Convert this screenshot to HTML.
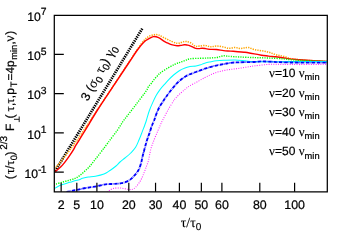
<!DOCTYPE html>
<html><head><meta charset="utf-8"><title>plot</title>
<style>
html,body{margin:0;padding:0;background:#fff;}
body{width:350px;height:245px;overflow:hidden;}
svg{display:block;will-change:transform;}
#txt{filter:grayscale(1);}
text{font-family:"Liberation Sans",sans-serif;fill:#000;stroke:#000;stroke-width:0.22px;text-rendering:geometricPrecision;}
.s{font-family:"Liberation Serif",serif;stroke-width:0.12px;}
</style></head><body>
<svg width="350" height="245" viewBox="0 0 350 245">
<rect x="0" y="0" width="350" height="245" fill="#fff"/>
<defs><clipPath id="c"><rect x="54.3" y="15.4" width="273" height="176.4"/></clipPath></defs>
<g clip-path="url(#c)" fill="none" stroke-linejoin="round">
<path d="M55.1,171.0 L142.6,28.0" stroke="#000" stroke-width="2.7" stroke-dasharray="1.35 0.95"/>
<path d="M54.5,168.6 C54.9,168.2 56.1,167.0 57.0,166.0 C57.9,165.0 58.8,164.0 60.0,162.6 C61.2,161.2 62.7,159.3 64.0,157.6 C65.3,155.9 66.7,154.1 68.0,152.4 C69.3,150.7 70.8,149.0 72.0,147.4 C73.2,145.8 74.0,144.4 75.0,143.0 C76.0,141.6 76.5,141.0 78.0,138.8 C79.5,136.6 82.0,132.8 84.0,129.8 C86.0,126.8 87.8,124.3 90.0,121.0 C92.2,117.7 94.1,114.7 97.2,110.0 C100.3,105.3 104.9,98.4 108.8,92.6 C112.7,86.8 117.0,80.3 120.5,75.0 C124.0,69.7 127.2,64.8 130.0,60.6 C132.8,56.4 134.9,53.0 137.2,49.6 C139.5,46.2 142.0,42.7 144.0,40.5 C146.0,38.3 147.3,37.3 149.0,36.3 C150.7,35.3 152.7,34.9 154.3,34.7 C155.9,34.5 156.9,34.5 158.6,35.0 C160.3,35.5 162.2,36.9 164.3,37.9 C166.4,38.9 169.3,40.4 171.4,41.3 C173.5,42.2 175.5,43.1 177.1,43.3 C178.7,43.5 179.8,42.9 181.0,42.6 C182.2,42.3 183.3,41.7 184.3,41.5 C185.3,41.3 186.1,41.4 187.0,41.6 C187.9,41.8 189.0,42.0 190.0,42.5 C191.0,43.0 192.1,43.8 193.0,44.4 C193.9,45.0 194.6,46.0 195.7,46.3 C196.8,46.6 197.8,46.2 199.3,46.1 C200.9,46.0 203.1,45.3 205.0,45.4 C206.9,45.5 208.8,46.7 210.7,46.8 C212.6,46.9 214.2,46.0 216.4,46.0 C218.6,46.0 221.4,46.7 223.6,47.1 C225.8,47.5 227.4,48.2 229.3,48.3 C231.2,48.4 233.2,47.5 235.0,47.5 C236.8,47.5 238.4,48.3 240.0,48.4 C241.6,48.5 242.9,48.0 244.3,47.9 C245.7,47.8 246.9,47.3 248.6,47.6 C250.3,47.9 252.2,49.1 254.3,49.6 C256.4,50.1 259.0,50.3 261.4,50.7 C263.8,51.1 266.2,51.5 268.6,52.1 C271.0,52.8 273.3,53.9 275.7,54.6 C278.1,55.3 280.5,55.5 282.9,56.1 C285.3,56.7 287.8,57.9 290.0,58.4 C292.2,58.9 293.5,59.1 296.0,59.4 C298.5,59.7 299.8,59.9 305.0,60.2 C310.2,60.6 323.3,61.3 327.0,61.5" stroke="#ffa500" stroke-width="1.5" stroke-dasharray="1.3 1.1"/>
<path d="M54.5,172.0 C54.8,171.8 55.3,171.5 56.3,170.7 C57.3,169.9 59.2,168.5 60.6,167.1 C62.0,165.7 63.5,163.9 64.9,162.1 C66.3,160.3 67.7,158.4 69.1,156.4 C70.5,154.4 72.1,152.1 73.2,150.2 C74.3,148.3 74.9,146.9 75.9,145.2 C76.9,143.5 77.3,143.1 79.3,139.8 C81.3,136.5 85.0,130.6 88.0,125.6 C91.0,120.6 94.0,115.5 97.5,110.0 C101.0,104.5 105.1,98.4 109.0,92.6 C112.9,86.8 117.2,80.3 120.7,75.0 C124.2,69.7 127.2,65.2 130.0,61.0 C132.8,56.8 135.1,53.2 137.4,50.0 C139.7,46.8 142.1,43.9 144.0,42.0 C145.9,40.1 147.4,39.5 149.0,38.6 C150.6,37.7 151.8,36.8 153.4,36.6 C155.0,36.5 156.8,36.9 158.6,37.7 C160.4,38.5 162.7,40.4 164.3,41.3 C165.9,42.2 166.8,42.7 168.0,43.2 C169.2,43.8 169.9,44.2 171.4,44.6 C172.9,45.0 175.5,45.6 177.1,45.7 C178.7,45.8 179.8,45.5 181.0,45.4 C182.2,45.2 183.3,44.9 184.3,44.8 C185.3,44.7 186.1,44.8 187.0,45.0 C187.9,45.2 189.0,45.4 190.0,45.8 C191.0,46.2 192.1,46.8 193.0,47.2 C193.9,47.6 194.7,48.2 195.7,48.4 C196.7,48.6 197.9,48.6 199.0,48.6 C200.1,48.6 201.0,48.2 202.1,48.2 C203.2,48.2 204.3,48.4 205.5,48.6 C206.7,48.8 207.5,49.1 209.3,49.3 C211.1,49.4 214.0,49.3 216.4,49.5 C218.8,49.7 221.2,50.3 223.6,50.6 C226.0,50.9 228.3,50.9 230.7,51.1 C233.1,51.3 235.7,51.5 237.9,51.7 C240.1,51.9 242.5,52.1 244.0,52.2 C245.5,52.3 245.4,52.2 247.1,52.5 C248.8,52.8 251.9,53.4 254.3,53.9 C256.7,54.4 259.0,54.8 261.4,55.2 C263.8,55.6 266.2,55.8 268.6,56.1 C271.0,56.4 273.3,56.5 275.7,56.8 C278.1,57.1 280.5,57.4 282.9,57.7 C285.3,58.1 287.1,58.5 290.0,58.9 C292.9,59.2 296.7,59.5 300.0,59.8 C303.3,60.1 305.5,60.2 310.0,60.5 C314.5,60.8 324.2,61.2 327.0,61.4" stroke="#ff0000" stroke-width="1.45"/>
<path d="M56.0,184.0 C57.2,183.7 60.7,182.7 63.0,182.0 C65.3,181.3 67.8,180.7 70.0,180.0 C72.2,179.3 74.2,178.9 76.0,178.0 C77.8,177.1 79.3,175.8 81.0,174.5 C82.7,173.2 84.5,171.4 86.0,170.0 C87.5,168.6 88.7,167.5 90.0,166.0 C91.3,164.5 92.7,162.7 94.0,161.0 C95.3,159.3 96.5,157.8 98.0,155.9 C99.5,154.0 101.9,150.8 103.0,149.4 C104.1,148.0 103.9,148.4 104.6,147.4 C105.3,146.4 106.5,144.7 107.4,143.5 C108.3,142.3 108.4,142.2 110.0,140.0 C111.6,137.8 114.9,133.7 117.1,130.6 C119.3,127.5 121.2,124.0 123.0,121.4 C124.8,118.8 126.2,117.2 128.0,114.9 C129.8,112.6 131.9,109.9 133.6,107.7 C135.3,105.5 136.4,104.0 138.0,101.9 C139.6,99.8 141.8,96.8 143.0,95.3 C144.2,93.8 144.4,93.5 145.1,92.6 C145.8,91.6 146.4,90.6 147.0,89.6 C147.6,88.5 147.9,87.4 148.7,86.3 C149.5,85.2 150.6,84.2 151.6,83.0 C152.6,81.8 153.3,80.4 154.4,79.1 C155.5,77.8 157.1,76.2 158.1,75.1 C159.1,74.0 159.1,73.9 160.7,72.7 C162.3,71.5 165.5,69.4 167.9,68.0 C170.3,66.6 173.0,65.2 175.0,64.2 C177.0,63.2 178.3,62.9 180.0,62.3 C181.7,61.7 183.3,61.2 185.0,60.6 C186.7,60.0 187.5,59.2 190.0,58.8 C192.5,58.4 196.8,58.4 200.0,58.3 C203.2,58.2 206.6,58.1 209.3,58.0 C212.0,57.9 214.6,57.7 216.4,57.5 C218.2,57.3 218.8,56.9 220.0,56.6 C221.2,56.3 222.4,55.9 223.6,55.8 C224.8,55.7 225.8,56.0 227.0,56.1 C228.2,56.2 228.5,56.4 230.7,56.5 C232.9,56.6 236.1,56.8 240.0,57.0 C243.9,57.2 249.5,57.4 254.3,57.6 C259.1,57.8 263.8,57.8 268.6,58.0 C273.4,58.2 279.3,58.5 282.9,58.8 C286.5,59.1 287.1,59.4 290.0,59.6 C292.9,59.9 295.8,60.1 300.0,60.3 C304.2,60.5 310.5,60.8 315.0,61.0 C319.5,61.2 325.0,61.4 327.0,61.5" stroke="#00ff00" stroke-width="1.4" stroke-dasharray="1.2 1.2"/>
<path d="M54.5,188.3 C54.8,188.2 54.9,188.2 56.0,187.6 C57.1,187.0 59.3,185.7 61.1,185.0 C62.9,184.3 65.0,183.9 66.9,183.3 C68.8,182.7 70.7,182.0 72.6,181.4 C74.5,180.8 76.6,180.5 78.3,180.0 C80.0,179.5 80.9,178.8 82.6,178.3 C84.3,177.8 86.2,177.3 88.3,177.0 C90.4,176.7 92.8,176.7 95.4,176.2 C98.0,175.7 101.6,174.9 104.0,174.0 C106.4,173.1 108.0,171.8 110.0,170.5 C112.0,169.2 114.3,167.4 116.0,166.0 C117.7,164.6 118.5,163.3 120.0,162.0 C121.5,160.7 123.2,159.5 125.0,158.0 C126.8,156.5 128.9,154.8 130.7,153.0 C132.5,151.2 134.2,149.6 135.6,147.3 C137.0,145.1 138.1,142.0 139.2,139.5 C140.3,137.0 141.2,134.5 142.1,132.1 C143.0,129.7 144.1,127.0 144.8,125.0 C145.5,123.0 145.8,122.4 146.5,120.0 C147.2,117.6 148.2,113.7 149.3,110.7 C150.4,107.7 151.7,104.7 152.9,102.1 C154.1,99.5 155.2,97.1 156.4,95.0 C157.6,92.9 158.6,91.5 160.0,89.6 C161.4,87.7 163.5,85.5 165.0,83.8 C166.5,82.1 167.6,80.9 169.0,79.4 C170.4,77.9 171.9,76.5 173.6,75.0 C175.3,73.5 177.4,71.9 179.3,70.7 C181.2,69.5 183.2,68.7 185.0,68.0 C186.8,67.3 188.2,66.7 190.0,66.4 C191.8,66.1 194.2,66.3 196.0,66.0 C197.8,65.7 199.4,65.2 200.7,64.8 C202.0,64.4 202.6,63.8 204.0,63.4 C205.4,63.0 207.2,62.5 209.3,62.1 C211.4,61.7 214.0,61.1 216.4,60.8 C218.8,60.5 220.5,60.4 223.6,60.3 C226.7,60.2 231.4,59.9 235.0,60.0 C238.6,60.1 242.5,60.6 245.0,60.8 C247.5,61.0 245.8,61.2 250.0,61.4 C254.2,61.6 263.3,61.8 270.0,61.8 C276.7,61.8 280.5,61.6 290.0,61.6 C299.5,61.6 320.8,61.6 327.0,61.6" stroke="#00ffff" stroke-width="1.05"/>
<path d="M66.5,192.0 C68.0,191.7 72.7,190.8 75.4,190.2 C78.1,189.6 80.2,189.1 82.6,188.6 C85.0,188.1 87.3,187.8 89.7,187.4 C92.1,187.0 94.5,186.7 96.9,186.2 C99.3,185.7 101.8,185.0 104.0,184.6 C106.2,184.2 108.3,184.1 110.0,184.0 C111.7,183.9 112.4,184.0 114.3,183.9 C116.2,183.8 119.0,183.7 121.4,183.2 C123.8,182.7 126.4,181.9 128.6,180.7 C130.8,179.4 132.6,177.5 134.3,175.7 C136.0,173.9 137.4,172.1 138.6,169.9 C139.8,167.7 140.6,164.8 141.2,162.7 C141.8,160.6 141.9,159.3 142.3,157.5 C142.7,155.7 143.0,154.7 143.7,152.1 C144.4,149.5 145.5,145.2 146.4,142.1 C147.3,139.0 148.4,136.4 149.3,133.6 C150.2,130.8 151.3,127.5 152.1,125.2 C152.9,122.9 153.6,121.9 154.3,120.0 C155.0,118.1 155.6,115.9 156.5,113.6 C157.4,111.3 158.6,108.6 159.8,106.4 C161.0,104.2 162.5,102.3 163.5,100.7 C164.5,99.1 164.8,98.7 166.0,97.0 C167.2,95.3 169.2,92.5 170.8,90.5 C172.4,88.5 173.8,86.8 175.4,85.0 C177.0,83.2 178.5,81.7 180.6,80.0 C182.7,78.3 185.4,76.3 188.0,75.0 C190.6,73.7 193.3,73.0 196.0,72.0 C198.7,71.0 201.0,70.0 204.0,69.0 C207.0,68.0 210.7,66.8 214.0,66.0 C217.3,65.2 221.2,64.5 224.0,64.0 C226.8,63.5 228.0,63.1 230.7,62.8 C233.4,62.5 236.1,62.4 240.0,62.3 C243.9,62.2 250.4,62.1 254.0,62.0 C257.6,61.9 259.0,61.5 261.4,61.4 C263.8,61.3 265.5,61.5 268.6,61.6 C271.7,61.7 274.8,62.0 280.0,62.2 C285.2,62.4 292.2,62.5 300.0,62.6 C307.8,62.7 322.5,62.6 327.0,62.6" stroke="#0000ff" stroke-width="1.85" stroke-dasharray="3.5 0.7 0.5 0.7"/>
<path d="M107.0,192.0 C107.4,191.7 108.5,191.0 109.5,190.4 C110.5,189.8 111.4,189.0 112.9,188.6 C114.4,188.2 116.7,187.9 118.6,187.9 C120.5,187.9 122.4,188.3 124.3,188.6 C126.2,188.9 128.6,189.5 130.0,189.6 C131.4,189.7 132.1,189.4 133.0,189.0 C133.9,188.6 134.5,188.5 135.7,187.2 C136.9,185.9 138.8,183.3 140.0,181.4 C141.2,179.5 142.0,177.8 142.9,175.6 C143.8,173.4 144.8,171.0 145.7,168.4 C146.6,165.8 147.8,163.1 148.6,160.0 C149.4,156.9 149.8,153.0 150.7,149.6 C151.6,146.2 153.1,142.5 154.3,139.3 C155.5,136.2 156.9,133.1 157.9,130.7 C158.9,128.3 159.6,126.9 160.4,125.0 C161.2,123.1 161.7,122.0 163.0,119.5 C164.3,117.0 166.2,113.2 168.0,110.0 C169.8,106.8 172.7,102.2 174.0,100.2 C175.3,98.2 174.8,99.1 176.0,97.8 C177.2,96.5 179.7,94.0 181.4,92.5 C183.1,91.0 184.6,89.6 186.0,88.5 C187.4,87.4 188.0,86.9 190.0,85.7 C192.0,84.5 195.5,82.8 198.0,81.4 C200.5,80.0 202.9,78.6 205.0,77.5 C207.1,76.4 208.8,75.5 210.7,74.7 C212.6,73.9 214.5,73.0 216.4,72.4 C218.3,71.8 220.2,71.3 222.1,70.9 C224.0,70.5 226.0,70.1 227.9,69.8 C229.8,69.5 231.7,69.2 233.6,69.0 C235.5,68.8 237.4,68.6 239.3,68.3 C241.2,68.0 243.2,67.7 245.0,67.4 C246.8,67.1 248.4,66.8 250.0,66.6 C251.6,66.3 252.4,66.2 254.3,65.9 C256.2,65.7 259.0,65.3 261.4,65.1 C263.8,64.8 266.2,64.5 268.6,64.4 C271.0,64.3 273.3,64.3 275.7,64.3 C278.1,64.3 278.8,64.4 282.9,64.4 C286.9,64.5 292.6,64.6 300.0,64.6 C307.4,64.6 322.5,64.3 327.0,64.3" stroke="#ff00ff" stroke-width="1.05" stroke-dasharray="0.95 1.4" stroke-opacity="0.9"/>
</g>
<path d="M54.3,15.4 H327.3 V191.75 H54.3 Z" fill="none" stroke="#000" stroke-width="1.25"/>
<path d="M61.15,191.75 v-9 M76.8,191.75 v-9 M96.9,191.75 v-9 M128.8,191.75 v-9 M155.55,191.75 v-9 M179.4,191.75 v-9 M201.35,191.75 v-9 M221.9,191.75 v-9 M259.8,191.75 v-9 M294.6,191.75 v-9 M54.3,54.3 h9.5 M54.3,93.6 h9.5 M54.3,132.9 h9.5 M54.3,172.2 h9.5 " fill="none" stroke="#000" stroke-width="1.2"/>
<g id="txt">
<text x="61.15" y="208.6" font-size="12.4" text-anchor="middle">2</text>
<text x="76.8" y="208.6" font-size="12.4" text-anchor="middle">5</text>
<text x="96.9" y="208.6" font-size="12.4" text-anchor="middle">10</text>
<text x="128.8" y="208.6" font-size="12.4" text-anchor="middle">20</text>
<text x="155.55" y="208.6" font-size="12.4" text-anchor="middle">30</text>
<text x="179.4" y="208.6" font-size="12.4" text-anchor="middle">40</text>
<text x="201.35" y="208.6" font-size="12.4" text-anchor="middle">50</text>
<text x="221.9" y="208.6" font-size="12.4" text-anchor="middle">60</text>
<text x="259.8" y="208.6" font-size="12.4" text-anchor="middle">80</text>
<text x="294.6" y="208.6" font-size="12.4" text-anchor="middle">100</text>
<text x="46.5" y="20.8" font-size="12.2" text-anchor="end">10<tspan dy="-5.4" font-size="10.4">7</tspan></text>
<text x="46.5" y="60.1" font-size="12.2" text-anchor="end">10<tspan dy="-5.4" font-size="10.4">5</tspan></text>
<text x="46.5" y="99.4" font-size="12.2" text-anchor="end">10<tspan dy="-5.4" font-size="10.4">3</tspan></text>
<text x="46.5" y="138.7" font-size="12.2" text-anchor="end">10<tspan dy="-5.4" font-size="10.4">1</tspan></text>
<text x="46.5" y="178.0" font-size="12.2" text-anchor="end">10<tspan dy="-5.4" font-size="10.4">-<tspan dx="-0.7">1</tspan></tspan></text>
<text x="180.8" y="227.4" font-size="13.8" class="s">τ/τ<tspan dy="3" font-size="10" style="font-family:'Liberation Sans',sans-serif">0</tspan></text>
<text x="269.1" y="77.0" font-size="12"><tspan class="s" font-size="13">ν</tspan>=10 <tspan class="s" font-size="13">ν</tspan><tspan dy="3.2" font-size="9.3">min</tspan></text>
<text x="269.1" y="96.6" font-size="12"><tspan class="s" font-size="13">ν</tspan>=20 <tspan class="s" font-size="13">ν</tspan><tspan dy="3.2" font-size="9.3">min</tspan></text>
<text x="269.1" y="116.2" font-size="12"><tspan class="s" font-size="13">ν</tspan>=30 <tspan class="s" font-size="13">ν</tspan><tspan dy="3.2" font-size="9.3">min</tspan></text>
<text x="269.1" y="135.8" font-size="12"><tspan class="s" font-size="13">ν</tspan>=40 <tspan class="s" font-size="13">ν</tspan><tspan dy="3.2" font-size="9.3">min</tspan></text>
<text x="269.1" y="155.4" font-size="12"><tspan class="s" font-size="13">ν</tspan>=50 <tspan class="s" font-size="13">ν</tspan><tspan dy="3.2" font-size="9.3">min</tspan></text>
<text transform="translate(87.7,101.8) rotate(-61.5)" font-size="12.6">3 (<tspan class="s" font-size="13.8">σ</tspan><tspan dy="3" font-size="9.8">0</tspan><tspan dy="-3"> </tspan><tspan class="s" font-size="13.8">τ</tspan><tspan dy="3" font-size="9.8">0</tspan><tspan dy="-3">) </tspan><tspan class="s" font-size="13.8">γ</tspan><tspan dy="3" font-size="9.8">0</tspan></text>
<g transform="translate(14,179.4) rotate(-90)"><text font-size="12"><tspan x="0.2" y="0">(</tspan><tspan x="5.5" y="0" class="s" font-size="13">τ</tspan><tspan x="10.3" y="0">/</tspan><tspan x="14" y="0" class="s" font-size="13">τ</tspan><tspan x="19.1" y="3" font-size="9.3">0</tspan><tspan x="23.8" y="0">)</tspan><tspan x="29.6" y="-6.6" font-size="10">2/3</tspan><tspan x="48.5" y="0">F</tspan><tspan x="61" y="0">(</tspan><tspan x="68" y="0" class="s" font-size="13">τ</tspan><tspan x="73.5" y="0">,</tspan><tspan x="75.8" y="0" class="s" font-size="13">τ</tspan><tspan x="81.2" y="0">,</tspan><tspan x="84.6" y="0">p</tspan><tspan x="92.1" y="3.3" font-size="9.3">T</tspan><tspan x="98.9" y="0" font-size="11.8">=4p</tspan><tspan x="119.7" y="3.3" font-size="9.3">min</tspan><tspan x="134.9" y="0">,</tspan><tspan x="137.6" y="0" class="s" font-size="14">ν</tspan><tspan x="144.6" y="0">)</tspan></text><path d="M57.3,5.2 H62.9 M60.1,5.2 V0" fill="none" stroke="#000" stroke-width="0.9"/></g>
</g>
</svg></body></html>
